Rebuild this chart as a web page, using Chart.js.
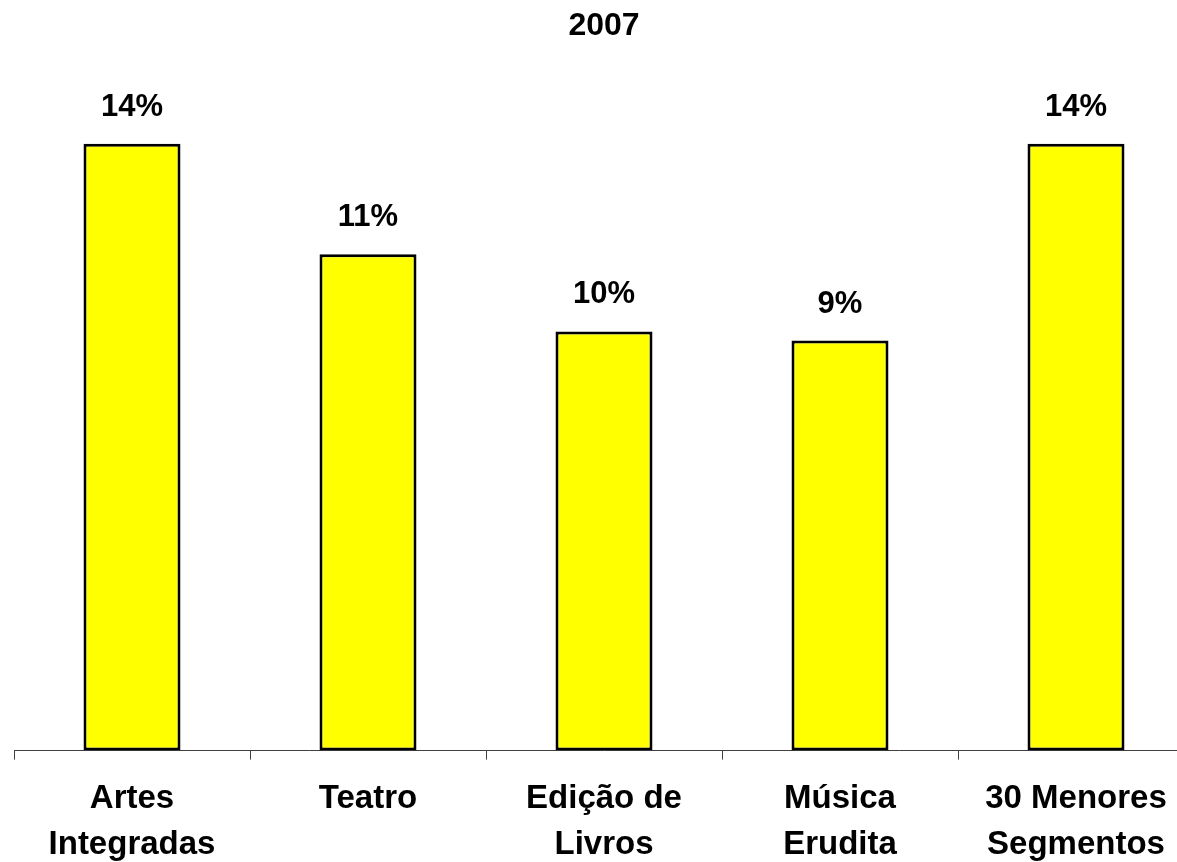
<!DOCTYPE html>
<html lang="pt">
<head>
    <meta charset="UTF-8">
    <title>2007</title>
    <script src="https://cdn.jsdelivr.net/npm/chart.js@4.4.1/dist/chart.umd.min.js"></script>
    <style>
        * { margin: 0; padding: 0; box-sizing: border-box; }
        html, body { background: #ffffff; overflow: hidden; }
        .wrap { position: relative; width: 1222px; height: 884px; }
    </style>
</head>
<body>
    <div class="wrap">
        <canvas id="chart"></canvas>
    </div>

    <script>
        // valores (em %)
        const categories = [
            ['Artes', 'Integradas'],
            ['Teatro'],
            ['Edição de', 'Livros'],
            ['Música', 'Erudita'],
            ['30 Menores', 'Segmentos']
        ];
        const values = [14.0, 11.45, 9.67, 9.46, 14.0];
        const title = '2007';

        const FONT = "'Liberation Sans', Arial, sans-serif";

        // rótulos de valor acima das barras
        const valueLabels = {
            id: 'valueLabels',
            afterDatasetsDraw(chart) {
                const ctx = chart.ctx;
                const meta = chart.getDatasetMeta(0);
                ctx.save();
                ctx.font = 'bold 31px ' + FONT;
                ctx.fillStyle = '#000000';
                ctx.textAlign = 'center';
                ctx.textBaseline = 'alphabetic';
                meta.data.forEach((bar, i) => {
                    ctx.fillText(Math.round(values[i]) + '%', bar.x, bar.y - 28);
                });
                ctx.restore();
            }
        };

        new Chart(document.getElementById('chart'), {
            type: 'bar',
            data: {
                labels: categories,
                datasets: [{
                    data: values,
                    backgroundColor: '#ffff00',
                    borderColor: '#000000',
                    borderWidth: 3,
                    borderSkipped: false,
                    barPercentage: 0.411,
                    categoryPercentage: 1.0
                }]
            },
            options: {
                responsive: true,
                maintainAspectRatio: false,
                animation: false,
                layout: { padding: { left: 14, right: 28, top: 0, bottom: 0 } },
                plugins: {
                    legend: { display: false },
                    tooltip: { enabled: false },
                    title: {
                        display: true,
                        text: title,
                        color: '#000000',
                        font: { family: FONT, size: 32, weight: 'bold' },
                        padding: { top: 7, bottom: 10 }
                    }
                },
                scales: {
                    x: {
                        border: { display: true, color: '#404040', width: 1 },
                        grid: {
                            display: true,
                            drawOnChartArea: false,
                            drawTicks: true,
                            tickLength: 9,
                            color: '#404040',
                            offset: true
                        },
                        ticks: {
                            color: '#000000',
                            padding: 16,
                            maxRotation: 0,
                            autoSkip: false,
                            font: { family: FONT, size: 33, weight: 'bold', lineHeight: 1.4 }
                        }
                    },
                    y: {
                        display: false,
                        min: 0,
                        max: 16.04
                    }
                }
            },
            plugins: [valueLabels]
        });
    </script>
</body>
</html>
